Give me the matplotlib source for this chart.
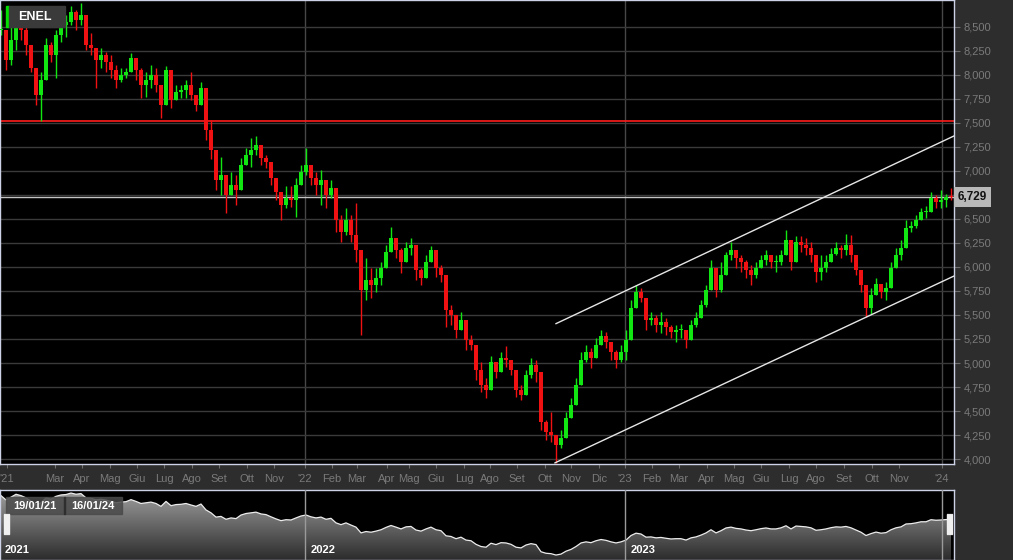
import numpy as np
import matplotlib
matplotlib.use('Agg')
import matplotlib.pyplot as plt
from matplotlib.patches import Rectangle
from matplotlib.colors import LinearSegmentedColormap

plt.rcParams['font.family'] = ['Liberation Sans', 'DejaVu Sans']

# ENEL, one bar every ~4 trading days, 19/01/21 -> 16/01/24
closes = [8.47, 8.16, 8.36, 8.57, 8.47, 8.31, 8.07, 7.79, 7.95, 8.31,
          8.21, 8.42, 8.52, 8.55, 8.66, 8.57, 8.62, 8.31, 8.28, 8.16,
          8.21, 8.14, 8.05, 7.95, 8.00, 8.03, 8.18, 8.05, 7.90, 7.95,
          8.00, 7.90, 7.69, 8.05, 7.74, 7.82, 7.84, 7.90, 7.79, 7.69,
          7.86, 7.43, 7.22, 6.91, 6.96, 6.75, 6.85, 6.80, 7.06, 7.17,
          7.22, 7.27, 7.14, 7.09, 6.93, 6.78, 6.65, 6.72, 6.70, 6.85,
          6.99, 7.06, 6.93, 6.85, 6.91, 6.75, 6.82, 6.49, 6.36, 6.49,
          6.33, 6.18, 5.76, 5.86, 5.81, 5.89, 5.99, 6.16, 6.30, 6.18,
          6.05, 6.20, 6.23, 5.97, 5.89, 6.05, 6.18, 5.99, 5.92, 5.55,
          5.50, 5.34, 5.45, 5.24, 5.19, 4.93, 4.77, 4.72, 5.01, 4.91,
          5.05, 5.03, 4.93, 4.72, 4.67, 4.88, 4.98, 4.91, 4.39, 4.28,
          4.25, 4.15, 4.22, 4.43, 4.56, 4.77, 5.03, 5.11, 5.05, 5.19,
          5.28, 5.22, 5.11, 5.03, 5.11, 5.24, 5.57, 5.74, 5.68, 5.45,
          5.47, 5.40, 5.43, 5.37, 5.32, 5.34, 5.34, 5.24, 5.40, 5.47,
          5.60, 5.76, 5.99, 5.76, 5.92, 6.12, 6.18, 6.09, 6.05, 5.97,
          5.92, 5.99, 6.07, 6.12, 6.05, 6.05, 6.13, 6.28, 6.05, 6.26,
          6.23, 6.20, 6.13, 5.95, 5.99, 6.05, 6.14, 6.20, 6.18, 6.23,
          6.13, 5.97, 5.81, 5.57, 5.71, 5.82, 5.74, 5.78, 5.99, 6.13,
          6.20, 6.41, 6.43, 6.49, 6.57, 6.57, 6.72, 6.68, 6.70, 6.73,
          6.729]
highs = [8.68, 8.47, 8.57, 8.62, 8.66, 8.52, 8.31, 8.00, 8.03, 8.39,
         8.34, 8.47, 8.59, 8.62, 8.72, 8.68, 8.75, 8.59, 8.44, 8.26,
         8.28, 8.24, 8.21, 8.10, 8.07, 8.07, 8.23, 8.16, 8.07, 8.03,
         8.10, 8.07, 7.86, 8.09, 7.95, 7.90, 7.90, 7.95, 8.03, 7.79,
         7.93, 7.74, 7.53, 7.12, 7.15, 6.91, 6.99, 6.96, 7.14, 7.24,
         7.34, 7.36, 7.24, 7.17, 7.06, 6.93, 6.78, 6.84, 6.84, 6.93,
         7.06, 7.24, 7.06, 6.99, 7.01, 6.85, 6.91, 6.80, 6.54, 6.61,
         6.54, 6.67, 6.07, 6.09, 5.99, 5.99, 6.05, 6.23, 6.42, 6.28,
         6.20, 6.26, 6.30, 6.18, 5.99, 6.12, 6.22, 6.18, 6.02, 5.92,
         5.60, 5.50, 5.53, 5.40, 5.29, 5.14, 5.01, 4.84, 5.07, 4.99,
         5.11, 5.18, 5.01, 4.88, 4.77, 4.93, 5.05, 5.03, 4.82, 4.41,
         4.49, 4.25, 4.30, 4.49, 4.64, 4.84, 5.11, 5.19, 5.16, 5.26,
         5.34, 5.32, 5.22, 5.14, 5.19, 5.34, 5.66, 5.81, 5.78, 5.60,
         5.53, 5.50, 5.53, 5.47, 5.40, 5.40, 5.41, 5.34, 5.45, 5.53,
         5.66, 5.81, 6.07, 5.92, 6.05, 6.16, 6.26, 6.18, 6.12, 6.07,
         6.02, 6.05, 6.13, 6.18, 6.13, 6.13, 6.18, 6.39, 6.18, 6.32,
         6.32, 6.30, 6.26, 6.09, 6.12, 6.12, 6.20, 6.26, 6.23, 6.34,
         6.33, 6.09, 5.95, 5.74, 5.78, 5.89, 5.82, 5.84, 6.05, 6.20,
         6.28, 6.49, 6.48, 6.54, 6.61, 6.64, 6.78, 6.75, 6.80, 6.76,
         6.82]
lows = [8.42, 8.05, 8.10, 8.26, 8.36, 8.21, 8.03, 7.69, 7.52, 8.05,
        8.14, 7.97, 8.34, 8.40, 8.52, 8.47, 8.52, 8.26, 8.21, 7.86,
        8.07, 8.03, 7.97, 7.86, 7.93, 7.97, 8.07, 7.95, 7.76, 7.77,
        7.86, 7.82, 7.55, 7.79, 7.66, 7.74, 7.76, 7.76, 7.74, 7.62,
        7.74, 7.32, 7.12, 6.80, 6.75, 6.56, 6.75, 6.65, 6.85, 7.06,
        7.04, 7.17, 7.06, 7.03, 6.85, 6.70, 6.49, 6.61, 6.62, 6.52,
        6.89, 6.96, 6.85, 6.75, 6.65, 6.61, 6.72, 6.36, 6.26, 6.33,
        6.26, 6.05, 5.29, 5.66, 5.68, 5.74, 5.81, 6.05, 6.18, 6.09,
        5.94, 6.13, 6.13, 5.86, 5.81, 5.97, 6.09, 5.90, 5.84, 5.37,
        5.40, 5.26, 5.34, 5.14, 5.14, 4.82, 4.70, 4.64, 4.84, 4.84,
        4.98, 4.96, 4.88, 4.65, 4.61, 4.72, 4.84, 4.80, 4.30, 4.20,
        4.18, 3.96, 4.11, 4.30, 4.46, 4.67, 4.88, 5.01, 4.95, 5.11,
        5.22, 5.16, 5.03, 4.95, 5.01, 5.03, 5.34, 5.64, 5.64, 5.34,
        5.40, 5.32, 5.31, 5.29, 5.26, 5.22, 5.26, 5.16, 5.26, 5.37,
        5.50, 5.58, 5.84, 5.69, 5.74, 6.02, 6.07, 5.99, 5.95, 5.89,
        5.81, 5.89, 5.99, 6.02, 5.99, 5.95, 6.02, 6.13, 5.97, 6.13,
        6.16, 6.13, 6.05, 5.84, 5.86, 5.95, 6.05, 6.13, 6.09, 6.12,
        6.05, 5.92, 5.74, 5.48, 5.51, 5.74, 5.68, 5.66, 5.86, 6.02,
        6.07, 6.28, 6.36, 6.41, 6.51, 6.51, 6.65, 6.61, 6.61, 6.62,
        6.70]

# x-axis month labels and their bar positions on the chart's axis
month_labels = ["'21", 'Mar', 'Apr', 'Mag', 'Giu', 'Lug', 'Ago', 'Set', 'Ott', 'Nov',
                "'22", 'Feb', 'Mar', 'Apr', 'Mag', 'Giu', 'Lug', 'Ago', 'Set', 'Ott', 'Nov', 'Dic',
                "'23", 'Feb', 'Mar', 'Apr', 'Mag', 'Giu', 'Lug', 'Ago', 'Set', 'Ott', 'Nov',
                "'24"]
month_pos = [1.2, 10.8, 16.2, 21.8, 27.2, 32.6, 38.2, 43.6, 49.2, 54.6,
             60.8, 66.2, 71.2, 77.2, 81.6, 87.0, 92.6, 97.8, 103.2, 108.8, 114.0, 119.6,
             124.8, 130.2, 135.6, 141.2, 146.6, 152.0, 157.6, 163.0, 168.6, 174.2, 179.6,
             188.2]
year_labels = ['2021', '2022', '2023']
year_pos = [60.8, 124.8, 188.2]   # '22, '23, '24 boundaries

resistance = 7.52
last_price = 6.729
upper_channel = [(111.0, 5.41), (190.6, 7.365)]
lower_channel = [(110.8, 3.96), (190.6, 5.906)]

W, H = 1013, 560
BG = '#2d2d2d'
UP, DOWN = '#12e612', '#f01212'

closes = np.array(closes)
highs = np.array(highs)
lows = np.array(lows)
x = np.arange(len(closes))
opens = np.concatenate([[closes[0]], closes[:-1]])
colors = np.where(closes >= opens, UP, DOWN)
hi = np.maximum(highs, np.maximum(opens, closes))
lo = np.minimum(lows, np.minimum(opens, closes))

fig = plt.figure(figsize=(W / 100, H / 100), dpi=100, facecolor=BG)
ax = fig.add_axes([0, 1 - 464 / H, 954 / W, 464 / H])
nav = fig.add_axes([0, 0, 954 / W, 70 / H])

# main chart
ax.set_facecolor('black')
ax.set_xlim(-0.2, 190.6)
ax.set_ylim(3.948, 8.781)
yt = np.arange(4.0, 8.51, 0.25)
ax.set_yticks(yt)
# the 6,750 label sits under the last-price tag
ax.set_yticklabels(['' if abs(v - 6.75) < 1e-6 else f'{v:.3f}'.replace('.', ',') for v in yt])
ax.yaxis.tick_right()
ax.set_xticks(month_pos)
ax.set_xticklabels(month_labels)
ax.tick_params(axis='y', colors='#6e6e6e', labelcolor='#7a7a7a', labelsize=8, length=4, pad=3)
ax.tick_params(axis='x', colors='#6e6e6e', labelcolor='#7a7a7a', labelsize=8, length=3, pad=4)
ax.grid(axis='y', color='#3a3a3a', lw=1)
ax.set_axisbelow(True)
for xp in year_pos:
    ax.axvline(xp, color='#474747', lw=1, zorder=0.5)
for s in ax.spines.values():
    s.set_color('#cdd2e6')
    s.set_linewidth(1)

ax.axhline(resistance, color='#ff1c1c', lw=1.2, zorder=1)
ax.axhline(last_price, color='#c4c4c4', lw=1, zorder=1)

ax.vlines(x, lo, hi, colors=colors, lw=1.0, zorder=2)
body = np.abs(closes - opens)
body = np.where(body < 0.01, 0.01, body)
ax.bar(x, body, bottom=np.minimum(opens, closes), width=0.8, color=colors, zorder=3)

for line in (upper_channel, lower_channel):
    (x0, y0), (x1, y1) = line
    ax.plot([x0, x1], [y0, y1], color='#e6e6e6', lw=1.0, zorder=4)

ax.text(1.004, last_price, f'{last_price:.3f}'.replace('.', ','), transform=ax.get_yaxis_transform(),
        ha='left', va='center', fontsize=8.5, fontweight='bold', color='#111111',
        bbox=dict(boxstyle='square,pad=0.3', fc='#b8b8b8', ec='none'), clip_on=False)

# ticker tag
fig.add_artist(Rectangle((6 / W, 1 - 27 / H), 3 / W, 21 / H, transform=fig.transFigure,
                         color='#00e000', zorder=10))
fig.add_artist(Rectangle((9 / W, 1 - 27 / H), 56 / W, 21 / H, transform=fig.transFigure,
                         color='#3a3a3a', zorder=10))
fig.text(18 / W, 1 - 17 / H, 'ENEL', color='white', fontsize=9, fontweight='bold',
         ha='left', va='center', zorder=11)

# navigator
nav.set_facecolor('black')
nav.set_xlim(-0.2, 190.6)
nav.set_ylim(3.79, 8.88)
nav.set_xticks([])
nav.set_yticks([])
for s in nav.spines.values():
    s.set_color('#cdd2e6')
    s.set_linewidth(1)
poly = nav.fill_between(x, closes, 3.79, color='none')
cmap = LinearSegmentedColormap.from_list('nav', ['#2c2c2c', '#a0a0a0'])
grad = nav.imshow(np.linspace(0, 1, 100).reshape(-1, 1), cmap=cmap, origin='lower',
                  extent=[-0.2, 190.6, 3.79, 8.88], aspect='auto', zorder=1)
grad.set_clip_path(poly.get_paths()[0], transform=nav.transData)
nav.plot(x, closes, color='#ececec', lw=0.9, zorder=2)
for xp in year_pos:
    nav.axvline(xp, color='#9a9a9a', lw=1, zorder=3)
nav.text(0.8, 3.79 + 0.14 * 5.09, year_labels[0], color='white', fontsize=8, fontweight='bold',
         ha='left', va='center', zorder=4)
for xp, lab in zip(year_pos[:2], year_labels[1:]):
    nav.text(xp + 1.2, 3.79 + 0.14 * 5.09, lab, color='white', fontsize=8, fontweight='bold',
             ha='left', va='center', zorder=4)

# date range box
fig.add_artist(Rectangle((6 / W, 1 - 514 / H), 116 / W, 17 / H, transform=fig.transFigure,
                         color='#4a4a4a', alpha=0.85, zorder=10))
fig.add_artist(Rectangle((64 / W, 1 - 514 / H), 1 / W, 17 / H, transform=fig.transFigure,
                         color='#2e2e2e', zorder=11))
fig.text(35 / W, 1 - 506 / H, '19/01/21', color='white', fontsize=8, fontweight='bold',
         ha='center', va='center', zorder=12)
fig.text(93 / W, 1 - 506 / H, '16/01/24', color='white', fontsize=8, fontweight='bold',
         ha='center', va='center', zorder=12)

# navigator handles
for hx in (4, 947):
    for k in range(3):
        fig.add_artist(Rectangle(((hx + 2 * k) / W, 1 - 534 / H), 1.2 / W, 20 / H,
                                 transform=fig.transFigure, color='#f0f0f0', zorder=12))

fig.savefig('out.png', dpi=100, facecolor=fig.get_facecolor())
